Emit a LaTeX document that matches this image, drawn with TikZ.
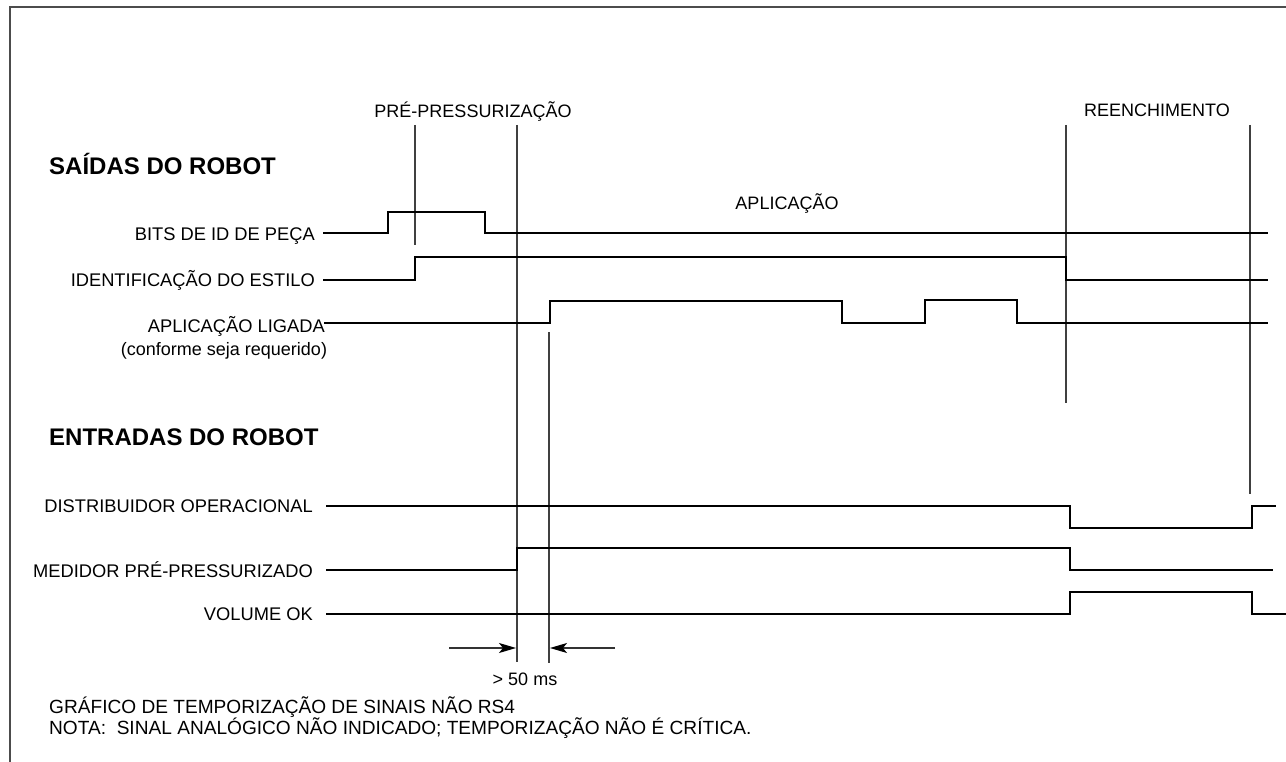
\documentclass[tikz,border=0pt]{standalone}
\usepackage{fontspec}
\setmainfont{Liberation Sans}
\usetikzlibrary{arrows.meta}
\begin{document}
\begin{tikzpicture}[x=1pt,y=-1pt,
  sig/.style={line width=2.7pt,black},
  guide/.style={line width=1.2pt,black!75},
  frame/.style={line width=1.8pt,black!70},
  lbl/.style={font=\fontsize{18.3}{21}\selectfont,inner sep=0pt,anchor=base east},
  hdr/.style={font=\fontsize{24}{28}\selectfont\bfseries,inner sep=0pt,anchor=base west},
  txt/.style={font=\fontsize{18}{21}\selectfont,inner sep=0pt},
  note/.style={font=\fontsize{19.1}{22}\selectfont,inner sep=0pt,anchor=base west},
  dimarrow/.style={line width=1.3pt,black!80,-{Stealth[length=17pt,width=10pt,inset=4pt,color=black]}}]
\useasboundingbox (0,0) rectangle (1286,762);
% frame
\draw[frame] (10,762) -- (10,7) -- (1286,7);
% headings
\node[hdr] (saidas) at (49,175) {SAÍDAS DO ROBOT};
\node[hdr] (entradas) at (49,445) {ENTRADAS DO ROBOT};
% phase labels
\node[txt] (pre) at (473,112) {PRÉ-PRESSURIZAÇÃO};
\node[txt] (reen) at (1157,110) {REENCHIMENTO};
\node[txt] (apl) at (787,204) {APLICAÇÃO};
% signal labels
\node[lbl] (l1) at (315,241) {BITS DE ID DE PEÇA};
\node[lbl] (l2) at (315,287) {IDENTIFICAÇÃO DO ESTILO};
\node[lbl] (l3) at (325,333) {APLICAÇÃO LIGADA};
\node[txt,anchor=base] (l3b) at (224,355) {(conforme seja requerido)};
\node[lbl] (l4) at (313,512) {DISTRIBUIDOR OPERACIONAL};
\node[lbl] (l5) at (313,577) {MEDIDOR PRÉ-PRESSURIZADO};
\node[lbl] (l6) at (313,620) {VOLUME OK};
% guide lines
\coordinate (g1a) at (415,125); \coordinate (g1b) at (415,245);
\coordinate (g2a) at (517,125); \coordinate (g2b) at (517,662);
\coordinate (g3a) at (549,332); \coordinate (g3b) at (549,663);
\coordinate (g4a) at (1066,125); \coordinate (g4b) at (1066,403);
\coordinate (g5a) at (1250,125); \coordinate (g5b) at (1250,494);
\draw[guide] (g1a) -- (g1b);
\draw[guide] (g2a) -- (g2b);
\draw[guide] (g3a) -- (g3b);
\draw[guide] (g4a) -- (g4b);
\draw[guide] (g5a) -- (g5b);
% signals
\draw[sig] (323,233) -- (388,233) -- (388,212) -- (485,212) -- (485,233) -- (1268,233);
\draw[sig] (323,280) -- (415,280) -- (415,257) -- (1066,257) -- (1066,280) -- (1268,280);
\draw[sig] (324,323) -- (550,323) -- (550,301) -- (842,301) -- (842,323) -- (925,323) -- (925,300) -- (1017,300) -- (1017,323) -- (1268,323);
\draw[sig] (326,506) -- (1070,506) -- (1070,528) -- (1252,528) -- (1252,506) -- (1276,506);
\draw[sig] (326,570) -- (517,570) -- (517,548) -- (1070,548) -- (1070,570) -- (1273,570);
\draw[sig] (326,614) -- (1070,614) -- (1070,592) -- (1252,592) -- (1252,614) -- (1286,614);
% timing arrows
\coordinate (a1s) at (449,648); \coordinate (a1e) at (516,648);
\coordinate (a2s) at (615,648); \coordinate (a2e) at (550,648);
\draw[dimarrow] (a1s) -- (a1e);
\draw[dimarrow] (a2s) -- (a2e);
\node[txt] (ms) at (525,679) {> 50 ms};
% notes
\node[note] (n1) at (49,713) {GRÁFICO DE TEMPORIZAÇÃO DE SINAIS NÃO RS4};
\node[note] (n2) at (49,734) {NOTA:\ \ SINAL ANALÓGICO NÃO INDICADO; TEMPORIZAÇÃO NÃO É CRÍTICA.};
\end{tikzpicture}
\end{document}
